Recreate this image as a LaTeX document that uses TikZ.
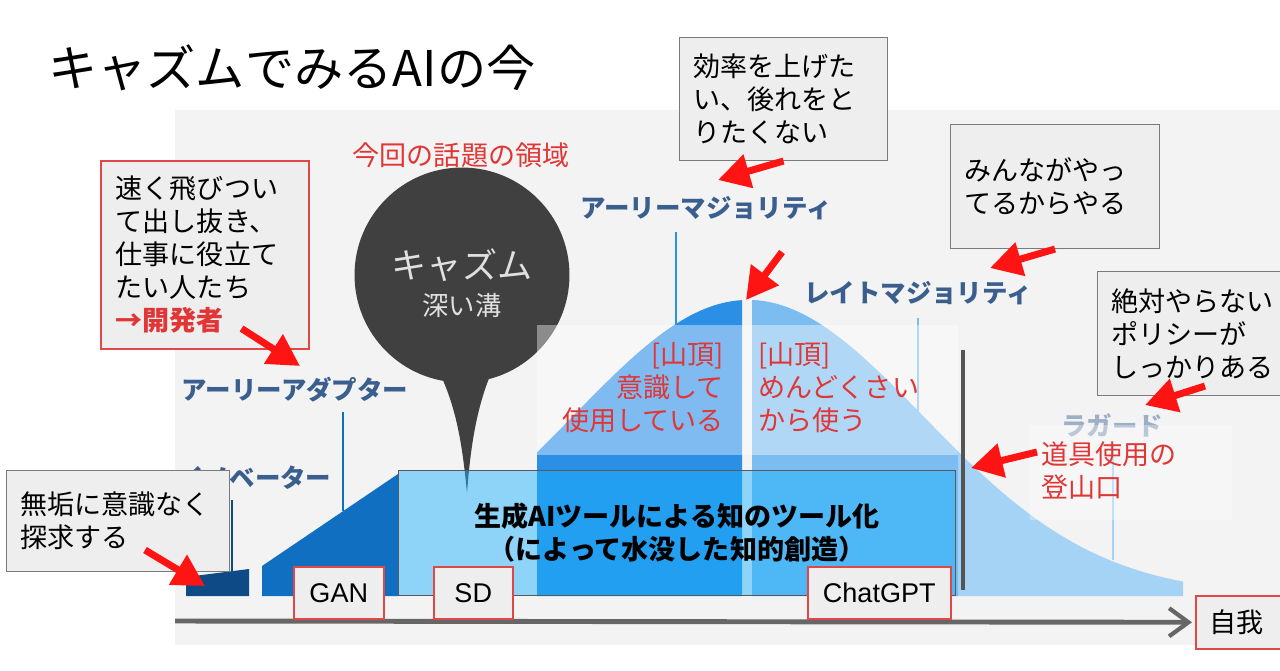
\documentclass[tikz,border=0pt]{standalone}
\usepackage{fontspec}
\setmainfont{Noto Sans CJK JP}
\newfontfamily\tagfamily{Liberation Sans}
\usetikzlibrary{positioning,arrows.meta,calc}
\definecolor{panel}{HTML}{F3F3F3}
\definecolor{boxfill}{HTML}{EEEEEE}
\definecolor{boxline}{HTML}{7A7A7A}
\definecolor{tagline}{HTML}{E04848}
\definecolor{notered}{HTML}{E03636}
\definecolor{hintred}{HTML}{FF1414}
\definecolor{grpblue}{HTML}{3A5F8E}
\definecolor{inno}{HTML}{0D4A86}
\definecolor{early}{HTML}{106FC0}
\definecolor{emaj}{HTML}{2B8FE6}
\definecolor{lmaj}{HTML}{7CBDF1}
\definecolor{lag}{HTML}{A5D3F5}
\definecolor{flood}{HTML}{1CB3FF}
\definecolor{chasmgray}{HTML}{404040}
\definecolor{axisgray}{HTML}{666666}
\newcommand\bodyfont{\fontsize{15.4pt}{18.8pt}\selectfont}
\newcommand\grpfont{\fontsize{14.5pt}{17pt}\selectfont\bfseries}
\newcommand\tagfont{\tagfamily\fontsize{15.4pt}{18pt}\selectfont}
\tikzset{
  gbox/.style={draw=boxline,fill=boxfill,line width=0.6pt,anchor=north west,align=left,font=\bodyfont,inner xsep=0.28cm,inner ysep=0pt},
  rbox/.style={gbox,draw=tagline,line width=0.9pt},
  tagbox/.style={rbox,align=center,font=\tagfont,inner sep=0pt,minimum height=1.04cm},
  grp/.style={font=\grpfont,text=grpblue,inner sep=0pt},
  note/.style={font=\bodyfont,text=notered,inner sep=0pt},
  hint/.style={draw=hintred,line width=4pt,-{Triangle[length=18pt,width=19pt]}},
  stem/.style={line width=1.6pt},
  axisline/.style={draw=axisgray,line width=2.8pt,shorten >=0.06cm,-{Straight Barb[length=11pt,width=16pt,line width=2.4pt]}},
}
\begin{document}
\begin{tikzpicture}[x=0.02cm,y=-0.02cm]
\useasboundingbox[fill=white] (0,0) rectangle (1280,670);
\node[font=\fontsize{28pt}{30pt}\selectfont,anchor=west,inner sep=0pt] (title) at (48,68) {キャズムでみるAIの今};
\fill[panel] (175,110) rectangle (1280,645);
% bell curve pieces
\fill[inno] (186,596) -- (186,577) -- (249,569) -- (249,596) -- cycle;
\fill[early] (262,596) -- (262,566) -- (398,474) -- (398,596) -- cycle;
\fill[emaj] (537,596) -- plot[domain=537:742,samples=40] (\x,{595-295*exp(-((\x-748)/175)*((\x-748)/175)/2)}) -- (742,596) -- cycle;
\fill[lag] (752,596) -- plot[domain=752:1183,samples=60] (\x,{595-295*exp(-((\x-748)/175)*((\x-748)/175)/2)}) -- (1183,596) -- cycle;
\fill[lmaj] (752,596) -- plot[domain=752:958,samples=40] (\x,{595-295*exp(-((\x-748)/175)*((\x-748)/175)/2)}) -- (958,596) -- cycle;
\draw[stem,draw=inno] (232,500) -- (232,572);
\draw[stem,draw=early] (343,412) -- (343,511);
\draw[stem,draw=emaj] (676,232) -- (676,324);
\draw[stem,draw=lmaj] (918,318) -- (918,411);
\draw[stem,draw=lag] (1113,445) -- (1113,560);
% group labels
\node[grp] (lblEM) at (706,208) {アーリーマジョリティ};
\node[grp] (lblLM) at (918,293) {レイトマジョリティ};
\node[grp] (lblEA) at (295,390) {アーリーアダプター};
\node[grp] (lblIN) at (255,478) {イノベーター};
\node[grp,text=grpblue!50] (lblLG) at (1112,425) {ラガード};
% chasm bubble
\node[circle,fill=chasmgray,minimum size=4.3cm,inner sep=0pt] (chasm) at (462,275) {};
\fill[chasmgray] (434,362) .. controls (455,400) and (462,440) .. (467,493) .. controls (471,440) and (478,400) .. (496,362) -- cycle;
\node[font=\fontsize{20pt}{22pt}\selectfont,text=white!88!black,inner sep=0pt] (chasmT) at (462,265) {キャズム};
\node[font=\fontsize{15pt}{17pt}\selectfont,text=white!88!black,inner sep=0pt] (chasmS) at (462,305) {深い溝};
% veils
\fill[white,fill opacity=0.4] (537,325) rectangle (958,455);
\node[draw=black!65,line width=0.6pt,fill=flood,fill opacity=0.47,text opacity=1,minimum width=11.14cm,minimum height=2.5cm,anchor=north west,align=center,font={\bodyfont\bfseries},inner sep=0pt] (flood) at (398,470) {生成AIツールによる知のツール化\\（によって水没した知的創造）};
\fill[white,fill opacity=0.3] (1030,425) rectangle (1232,520);
\draw[line width=2.8pt,draw=black!67] (963,350) -- (963,590);
\coordinate (gate) at (971,468);
% axis
\node[rbox,text width=2cm,minimum height=1.06cm] (ego) at (1195,595) {自我};
\coordinate (origin) at (175,621);
\draw[axisline] (origin) -- (ego.west);
\node[tagbox,text width=1.8cm] (gan) at (293,566) {GAN};
\node[tagbox,text width=1.58cm] (sd) at (433,566) {SD};
\node[tagbox,text width=2.86cm] (gpt) at (807,566) {ChatGPT};
% comment boxes
\node[rbox,text width=3.56cm,inner xsep=0.3cm,minimum height=3.76cm] (dev) at (100,160) {速く飛びつい\\て出し抜き、\\仕事に役立て\\たい人たち\\{\color{notered}\bfseries →開発者}};
\node[gbox,text width=3.6cm,minimum height=2.46cm] (eff) at (679,37) {効率を上げた\\い、後れをと\\りたくない};
\node[gbox,text width=3.62cm,minimum height=2.48cm] (all) at (950,124) {みんながやっ\\てるからやる};
\node[gbox,text width=4.1cm,minimum height=2.48cm] (policy) at (1097,271) {絶対やらない\\ポリシーが\\しっかりある};
\node[gbox,text width=3.9cm,minimum height=2.02cm] (naive) at (6,470) {無垢に意識なく\\探求する};
% red notes
\node[note] (topic) at (461,155) {今回の話題の領域};
\node[note,align=right,anchor=east] (peakL) at (724,388) {[山頂]\\意識して\\使用している};
\node[note,align=left,anchor=west] (peakR) at (758,388) {[山頂]\\めんどくさい\\から使う};
\node[note,align=left,anchor=west] (trail) at (1041,471) {道具使用の\\登山口};
% arrows
\coordinate (tipEA) at (300,366);
\coordinate (tipIN) at (205,586);
\coordinate (tipEM) at (718,180);
\coordinate (peakTail) at (782,252);
\coordinate (tipPK) at (746,300);
\coordinate (tipLM) at (990,268);
\coordinate (tipLG) at (1145,405);
\draw[hint] ($(dev.south east)+(-68,-21)$) -- (tipEA);
\draw[hint] ($(naive.south west)+(139,-22)$) -- (tipIN);
\draw[hint] (eff.south) -- (tipEM);
\draw[hint] (peakTail) -- (tipPK);
\draw[hint] (all.south) -- (tipLM);
\draw[hint] ($(policy.south west)+(108,-10)$) -- (tipLG);
\draw[hint] ($(trail.west)+(-4,-19)$) -- (gate);
\end{tikzpicture}
\end{document}
